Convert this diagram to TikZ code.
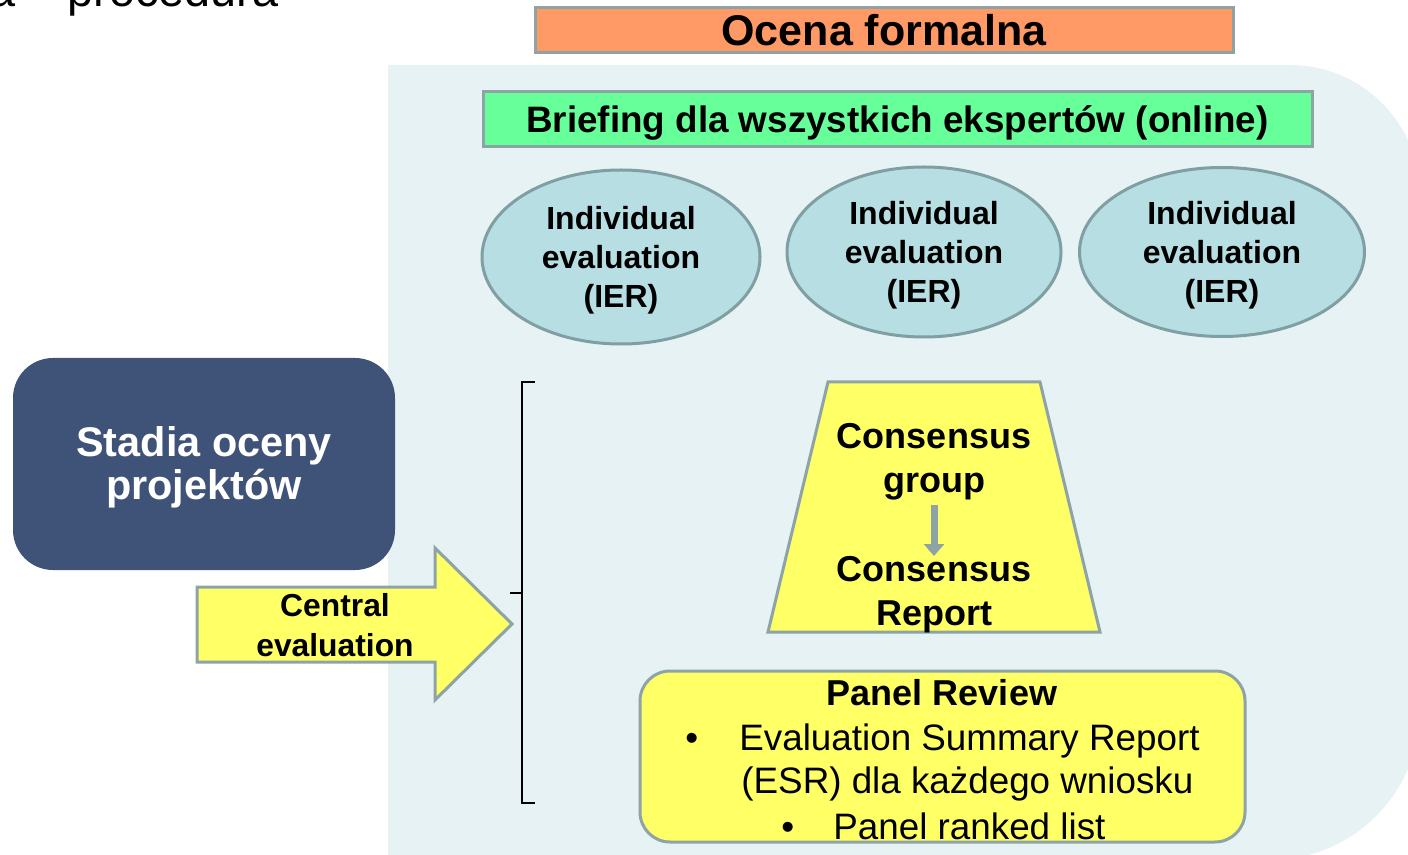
\documentclass[tikz,border=0pt]{standalone}
\usepackage{fontspec}
\setmainfont{Liberation Sans}
\usetikzlibrary{positioning,shapes.geometric,arrows.meta}

\definecolor{panelbg}{HTML}{E6F2F4}
\definecolor{edgegrey}{HTML}{8DA3A6}
\definecolor{formalorange}{HTML}{FF9966}
\definecolor{briefgreen}{HTML}{66FF99}
\definecolor{ierblue}{HTML}{B7DEE3}
\definecolor{ieredge}{HTML}{7F9FA3}
\definecolor{stagenavy}{HTML}{3F5278}
\definecolor{evalyellow}{HTML}{FFFF66}

\tikzset{
  bar/.style={draw=edgegrey,line width=1.5pt,inner sep=0pt},
}

\begin{document}
\begin{tikzpicture}[x=0.5pt,y=-0.5pt]
	\useasboundingbox (0,0) rectangle (1408,855);
	\clip (0,0) rectangle (1408,855);
	% cut-off heading of the slide
	\node[anchor=base west,inner sep=0pt,font=\fontsize{23.4}{28}\selectfont] (slidetitle) at (-11,7) {a – procedura};
	% light panel behind the evaluation steps
	\fill[panelbg] (388,860) -- (388,65) [rounded corners=65pt] -- (1420,65) [rounded corners=75pt] -- (1420,860) [sharp corners] -- cycle;
	\begin{scope}[every node/.style={bar,align=center}]
		\node[fill=formalorange,minimum width=349pt,minimum height=22.5pt,font=\bfseries\fontsize{21.5}{26}\selectfont] (formal) at (884,30.5) {Ocena formalna};
		\node[fill=briefgreen,minimum width=414.5pt,minimum height=27.5pt] (brief) at (897.5,119.5) {};
		\node[draw=none,inner sep=0pt,font=\bfseries\fontsize{18.4}{22}\selectfont] (brieftext) at (897.5,123) {Briefing dla wszystkich ekspertów (online)};
	\end{scope}
	\begin{scope}[every node/.style={ellipse,draw=ieredge,line width=1.5pt,fill=ierblue,inner sep=0pt,align=center,font=\bfseries\fontsize{16}{19.5}\selectfont}]
		\node[minimum width=139pt,minimum height=87pt] (ierA) at (621,257) {};
		\node[minimum width=137pt,minimum height=85pt] (ierB) at (924,252) {};
		\node[minimum width=142.5pt,minimum height=84.5pt] (ierC) at (1222,252) {};
	\end{scope}
	\begin{scope}[every node/.style={align=center,inner sep=0pt,font=\bfseries\fontsize{16}{19.5}\selectfont}]
		\node (ierAtext) at ([yshift=-1.8pt]ierA.center) {Individual\\evaluation\\(IER)};
		\node (ierBtext) at ([yshift=-1.5pt]ierB.center) {Individual\\evaluation\\(IER)};
		\node (ierCtext) at ([yshift=-1.5pt]ierC.center) {Individual\\evaluation\\(IER)};
	\end{scope}
	\node[fill=stagenavy,rounded corners=20pt,minimum width=191pt,minimum height=106pt] (stages) at (204,464) {};
	\node[align=center,inner sep=0pt,text=white,font=\bfseries\fontsize{20.7}{21.5}\selectfont] (stagestext) at (204,467) {Stadia oceny\\projektów};
	% big arrow
	\draw[edgegrey,line width=1.5pt,fill=evalyellow] (197,587) -- (435,587) -- (435,548) -- (512,624) -- (435,700) -- (435,662) -- (197,662) -- cycle;
	\node[align=center,inner sep=0pt,font=\bfseries\fontsize{15.9}{20}\selectfont] (central) at (335,625) {Central\\evaluation};
	% bracket
	\coordinate (brtop) at (522,382);
	\coordinate (brbot) at (522,803);
	\coordinate (brmid) at (522,593);
	\draw[line width=1pt] ([xshift=6.5pt]brtop) -- (brtop) -- (brbot) -- ([xshift=6.5pt]brbot);
	\draw[line width=1pt] ([xshift=-6pt]brmid) -- (brmid);
	% consensus trapezium
	\draw[edgegrey,line width=1.5pt,fill=evalyellow] (828,382) -- (1040,382) -- (1100,632) -- (768,632) -- cycle;
	\begin{scope}[every node/.style={align=center,inner sep=0pt,font=\bfseries\fontsize{18}{22}\selectfont}]
		\node (cgroup) at (934,462) {Consensus\\group};
		\node (creport) at (934,595) {Consensus\\Report};
	\end{scope}
	\draw[edgegrey,line width=3.5pt,-{Triangle[width=10pt,length=6pt]}] (934,505) -- (934,556);
	% panel review
	\node[bar,fill=evalyellow,rounded corners=15pt,minimum width=302.5pt,minimum height=85.5pt] (panel) at (942.5,756.5) {};
	\begin{scope}[every node/.style={anchor=base west,inner sep=0pt,font=\fontsize{18.4}{22}\selectfont}]
		\node[anchor=base,font=\bfseries\fontsize{18}{22}\selectfont] (panelhead) at (942,705) {Panel Review};
		\node (bulA) at (685,750) {•};
		\node (esrA) at (739,750) {Evaluation Summary Report};
		\node (esrB) at (741,793) {(ESR) dla każdego wniosku};
		\node (bulB) at (781,839) {•};
		\node (ranked) at (833,839) {Panel ranked list};
	\end{scope}
\end{tikzpicture}
\end{document}
